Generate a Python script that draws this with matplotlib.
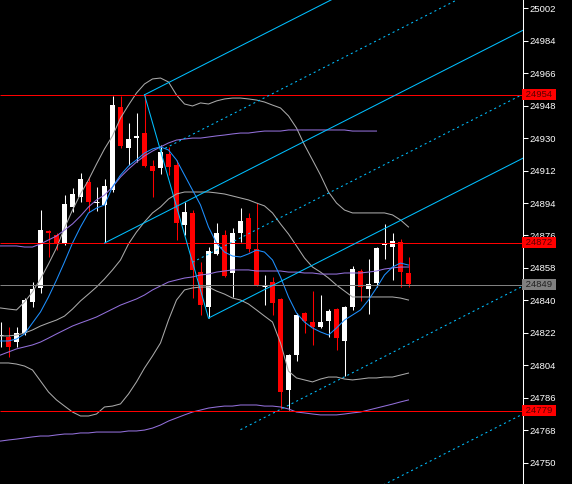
import numpy as np
import matplotlib
matplotlib.use("Agg")
import matplotlib.pyplot as plt
import matplotlib.transforms as mtransforms

# ---------------- data ----------------
opens = [24820.3, 24819.7, 24816.9, 24821.9, 24839.1, 24846.9, 24878.5, 24876.3, 24871.8, 24891.8,
         24897.3, 24905.7, 24894.0, 24892.9, 24901.2, 24947.2, 24924.5, 24930.0, 24932.8, 24914.5,
         24913.4, 24921.2, 24915.1, 24881.8, 24888.5, 24855.7, 24836.3, 24865.7, 24876.3, 24855.2,
         24877.4, 24885.7, 24868.5, 24848.0, 24850.2, 24840.8, 24790.3, 24809.7, 24833.0, 24828.0,
         24825.2, 24828.6, 24835.2, 24817.5, 24836.3, 24856.3, 24846.3, 24849.6, 24870.7, 24869.6,
         24872.4, 24855.2]
highs = [24828.0, 24825.2, 24825.2, 24841.3, 24850.2, 24890.1, 24879.0, 24877.4, 24898.4, 24902.3,
         24910.6, 24908.4, 24902.9, 24907.3, 24953.3, 24953.3, 24938.4, 24943.9, 24954.0, 24917.9,
         24926.2, 24925.1, 24917.9, 24894.6, 24890.1, 24861.3, 24869.6, 24882.9, 24879.0, 24880.1,
         24891.2, 24888.5, 24894.0, 24854.1, 24853.0, 24841.3, 24810.3, 24833.0, 24833.6, 24845.2,
         24843.0, 24835.2, 24835.8, 24836.9, 24859.1, 24857.4, 24863.0, 24869.6, 24882.4, 24877.4,
         24874.0, 24864.1]
lows = [24814.2, 24808.6, 24814.2, 24820.8, 24836.3, 24844.1, 24864.1, 24867.9, 24870.7, 24889.0,
        24894.6, 24889.0, 24889.6, 24871.8, 24900.1, 24924.5, 24915.1, 24916.7, 24914.0, 24897.3,
        24910.1, 24909.5, 24873.5, 24876.3, 24841.3, 24831.9, 24830.2, 24865.2, 24853.0, 24841.9,
        24872.4, 24866.8, 24848.0, 24837.4, 24831.9, 24779.8, 24779.0, 24806.4, 24821.9, 24815.3,
        24824.7, 24819.7, 24812.5, 24798.1, 24834.7, 24839.7, 24832.5, 24847.4, 24863.0, 24851.3,
        24847.4, 24847.4]
closes = [24820.8, 24814.2, 24821.9, 24840.2, 24846.3, 24879.0, 24877.4, 24871.8, 24893.5, 24899.0,
          24907.3, 24894.6, 24894.6, 24903.4, 24948.3, 24925.6, 24929.5, 24931.2, 24914.5, 24911.8,
          24922.3, 24914.0, 24882.9, 24889.0, 24856.9, 24837.4, 24867.4, 24877.4, 24853.5, 24877.4,
          24884.0, 24868.5, 24848.5, 24848.5, 24838.6, 24789.2, 24809.7, 24831.9, 24828.6, 24825.2,
          24828.0, 24834.1, 24819.1, 24836.3, 24857.4, 24847.4, 24849.1, 24869.1, 24871.8, 24872.9,
          24855.7, 24849.0]

bb_upper = [24835.8, 24835.2, 24834.7, 24839.1, 24844.7, 24851.9, 24860.2, 24869.1, 24880.1, 24890.1,
            24899.0, 24906.8, 24915.6, 24924.0, 24931.2, 24941.1, 24948.3, 24955.0, 24960.0, 24962.8,
            24963.3, 24961.1, 24953.9, 24948.9, 24947.8, 24949.5, 24948.9, 24950.6, 24951.7, 24952.2,
            24952.2, 24951.7, 24951.1, 24950.0, 24948.3, 24946.7, 24942.3, 24935.6, 24926.2, 24917.9,
            24909.5, 24900.1, 24894.0, 24890.1, 24888.5, 24888.5, 24888.5, 24888.5, 24888.5, 24887.4,
            24884.6, 24880.7]
bb_mid = [24820.3, 24820.3, 24820.8, 24821.9, 24823.6, 24825.8, 24827.5, 24829.1, 24831.3, 24835.2,
          24839.7, 24843.5, 24847.4, 24851.9, 24856.9, 24862.4, 24871.3, 24877.9, 24883.5, 24888.5,
          24891.8, 24896.2, 24899.0, 24900.1, 24900.1, 24900.1, 24900.1, 24899.6, 24899.0, 24897.9,
          24896.8, 24895.7, 24894.0, 24892.4, 24888.5, 24882.4, 24876.8, 24870.2, 24863.5, 24858.5,
          24855.7, 24852.4, 24848.5, 24845.2, 24841.9, 24841.9, 24841.9, 24841.9, 24841.9, 24841.9,
          24841.3, 24840.2]
bb_lower = [24805.3, 24805.3, 24804.7, 24803.6, 24801.4, 24795.3, 24789.2, 24784.8, 24781.4, 24778.1,
            24775.9, 24775.9, 24777.0, 24780.9, 24781.4, 24782.6, 24788.1, 24794.8, 24802.5, 24809.2,
            24816.4, 24829.1, 24840.2, 24845.8, 24846.9, 24847.4, 24847.4, 24845.2, 24843.5, 24841.3,
            24840.2, 24838.0, 24834.7, 24831.3, 24828.0, 24816.4, 24800.8, 24797.0, 24795.9, 24794.8,
            24796.4, 24797.5, 24797.5, 24796.4, 24795.9, 24796.4, 24797.0, 24797.0, 24797.5, 24797.5,
            24798.6, 24799.7]
nan = float("nan")
bb2_upper = [24870.2, 24870.2, 24870.2, 24869.6, 24869.6, 24871.3, 24873.5, 24875.7, 24879.0, 24882.4,
             24886.8, 24891.8, 24895.7, 24898.4, 24902.9, 24908.4, 24912.8, 24916.7, 24920.1, 24922.8,
             24925.1, 24927.3, 24928.9, 24929.5, 24930.0, 24930.0, 24930.6, 24931.2, 24931.7, 24932.3,
             24932.8, 24932.8, 24933.4, 24933.9, 24933.9, 24933.9, 24934.5, 24934.5, 24934.5, 24934.5,
             24934.5, 24934.5, 24934.5, 24934.5, 24933.9, 24933.9, 24933.9, 24933.9, nan, nan, nan, nan]
bb2_mid = [24809.7, 24811.4, 24813.1, 24814.2, 24815.3, 24816.9, 24819.1, 24821.4, 24823.6, 24825.8,
           24827.5, 24829.1, 24830.8, 24833.0, 24835.2, 24837.4, 24839.1, 24840.8, 24843.0, 24845.8,
           24848.0, 24850.2, 24851.3, 24852.4, 24853.0, 24854.1, 24854.6, 24855.7, 24856.3, 24856.9,
           24856.9, 24856.9, 24856.3, 24856.3, 24856.3, 24856.3, 24855.7, 24855.7, 24855.2, 24855.2,
           24854.6, 24854.6, 24854.6, 24855.2, 24855.2, 24855.2, 24855.7, 24856.3, 24857.4, 24858.0,
           24858.5, 24858.5]
bb2_lower = [24762.0, 24762.6, 24763.1, 24763.7, 24764.3, 24764.8, 24764.8, 24765.4, 24765.9, 24765.9,
             24766.5, 24766.5, 24767.0, 24767.0, 24767.0, 24767.0, 24767.6, 24767.6, 24768.1, 24769.2,
             24770.9, 24773.1, 24774.8, 24776.5, 24778.1, 24779.2, 24780.3, 24780.9, 24781.4, 24781.4,
             24782.0, 24782.0, 24782.0, 24781.4, 24781.4, 24780.9, 24779.8, 24778.1, 24777.6, 24777.0,
             24776.5, 24776.5, 24776.5, 24777.0, 24777.6, 24778.1, 24779.2, 24780.3, 24781.4, 24782.5,
             24783.7, 24784.8]
ma_fast = [24817.5, 24817.5, 24818.6, 24821.4, 24827.5, 24833.6, 24841.9, 24851.3, 24861.3, 24871.8,
           24880.7, 24888.5, 24891.2, 24892.9, 24902.9, 24909.5, 24914.5, 24917.9, 24921.7, 24924.0,
           24925.1, 24923.4, 24917.9, 24909.5, 24901.2, 24892.9, 24880.7, 24871.8, 24866.8, 24864.6,
           24864.1, 24865.8, 24867.9, 24866.8, 24862.4, 24853.0, 24841.9, 24833.0, 24828.0, 24824.7,
           24822.5, 24820.8, 24824.7, 24829.1, 24831.9, 24834.7, 24840.2, 24846.9, 24854.1, 24858.5,
           24860.7, 24859.6]

pf_idx = [13, 18, 26]
pf_price = [24871.8, 24954.0, 24830.2]
pf_dashed_levels = [-0.5, 0.5, 2.0, 3.0]

red_levels = [24954, 24872, 24779]
gray_levels = [24849]
tick_values = list(range(24750, 25003, 18))

# ---------------- figure ----------------
W, H = 572, 484
fig = plt.figure(figsize=(W / 100, H / 100), dpi=100, facecolor="black")
ax = fig.add_axes([0, 0, 523 / W, 1], facecolor="black")
x_right = (523 - 0.5) / 8
ax.set_xlim(-0.0625, x_right)
ax.set_ylim(24738.19, 25006.57)

LW = 0.75
n = len(opens)
x = np.arange(n)

# candles
up_col, dn_col = "white", "#ff0000"
cols = [up_col if c >= o else dn_col for o, c in zip(opens, closes)]
ax.vlines(x, lows, highs, colors=cols, lw=LW, zorder=2)
body_b = [min(o, c) for o, c in zip(opens, closes)]
body_h = [abs(c - o) for o, c in zip(opens, closes)]
ax.bar(x, body_h, bottom=body_b, width=0.6, color=cols, linewidth=0, zorder=2)
for i in range(n):
    if body_h[i] < 1.0:
        ax.hlines((opens[i] + closes[i]) / 2, i - 0.3, i + 0.3, colors=cols[i], lw=LW, zorder=2)

# indicators
gray = "#a9a9a9"
purple = "#9370db"
ax.plot(x, bb_upper, color=gray, lw=LW, zorder=3)
ax.plot(x, bb_mid, color=gray, lw=LW, zorder=3)
ax.plot(x, bb_lower, color=gray, lw=LW, zorder=3)
ax.plot(x, bb2_upper, color=purple, lw=LW, zorder=3)
ax.plot(x, bb2_mid, color=purple, lw=LW, zorder=3)
ax.plot(x, bb2_lower, color=purple, lw=LW, zorder=3)
ax.plot(x, ma_fast, color="#1e90ff", lw=LW, zorder=3)

# horizontal levels, drawn on exact pixel rows so they stay crisp
pix = mtransforms.blended_transform_factory(ax.transAxes, mtransforms.IdentityTransform())

def hline_px(level, color):
    yd = ax.transData.transform((0, level))[1]
    yd = np.floor(yd) + 0.5
    ax.plot([0, 1], [yd, yd], transform=pix, color=color, lw=0.72, zorder=4,
            solid_capstyle="butt")
    return yd

label_rows = {}
for lv in red_levels:
    label_rows[lv] = hline_px(lv, "#ff0000")
for lv in gray_levels:
    label_rows[lv] = hline_px(lv, "#808080")

# Andrews pitchfork
pf_col = "#00bfff"
p1 = np.array([pf_idx[0], pf_price[0]], float)
p2 = np.array([pf_idx[1], pf_price[1]], float)
p3 = np.array([pf_idx[2], pf_price[2]], float)
m = (p2 + p3) / 2
d = m - p1
slope = d[1] / d[0]
step = p3 - m

def ray(start, **kw):
    xs = [start[0], x_right + 1]
    ys = [start[1], start[1] + slope * (x_right + 1 - start[0])]
    ax.plot(xs, ys, color=pf_col, lw=LW, zorder=5, **kw)

ax.plot([p2[0], p3[0]], [p2[1], p3[1]], color=pf_col, lw=LW, zorder=5)
ray(p1)
ray(p2)
ray(p3)
for lvl in pf_dashed_levels:
    ray(m + lvl * step, linestyle=(0, (2, 3)))

# axis styling
for s in ["left", "top", "bottom"]:
    ax.spines[s].set_visible(False)
ax.spines["right"].set_color("white")
ax.spines["right"].set_linewidth(LW)
ax.set_xticks([])
ax.yaxis.tick_right()
ax.set_yticks(tick_values)
ax.set_yticklabels([str(v) for v in tick_values])
ax.tick_params(axis="y", colors="white", length=3.5, width=LW, pad=1,
               labelsize=6.8, labelcolor="white")
for lab in ax.get_yticklabels():
    lab.set_fontfamily("Liberation Sans")

trans = mtransforms.blended_transform_factory(ax.transAxes, ax.transData)
for lv in red_levels:
    ax.text(1.0, lv, " " + str(lv) + " ", transform=trans, ha="left", va="center",
            fontsize=6.8, family="Liberation Sans", color="#5a0000", zorder=10,
            bbox=dict(boxstyle="square,pad=0.12", fc="#ff0000", ec="none"), clip_on=False)
for lv in gray_levels:
    ax.text(1.0, lv, " " + str(lv) + " ", transform=trans, ha="left", va="center",
            fontsize=6.8, family="Liberation Sans", color="#202020", zorder=10,
            bbox=dict(boxstyle="square,pad=0.12", fc="#808080", ec="none"), clip_on=False)

fig.savefig("out.png", dpi=100, facecolor="black")
